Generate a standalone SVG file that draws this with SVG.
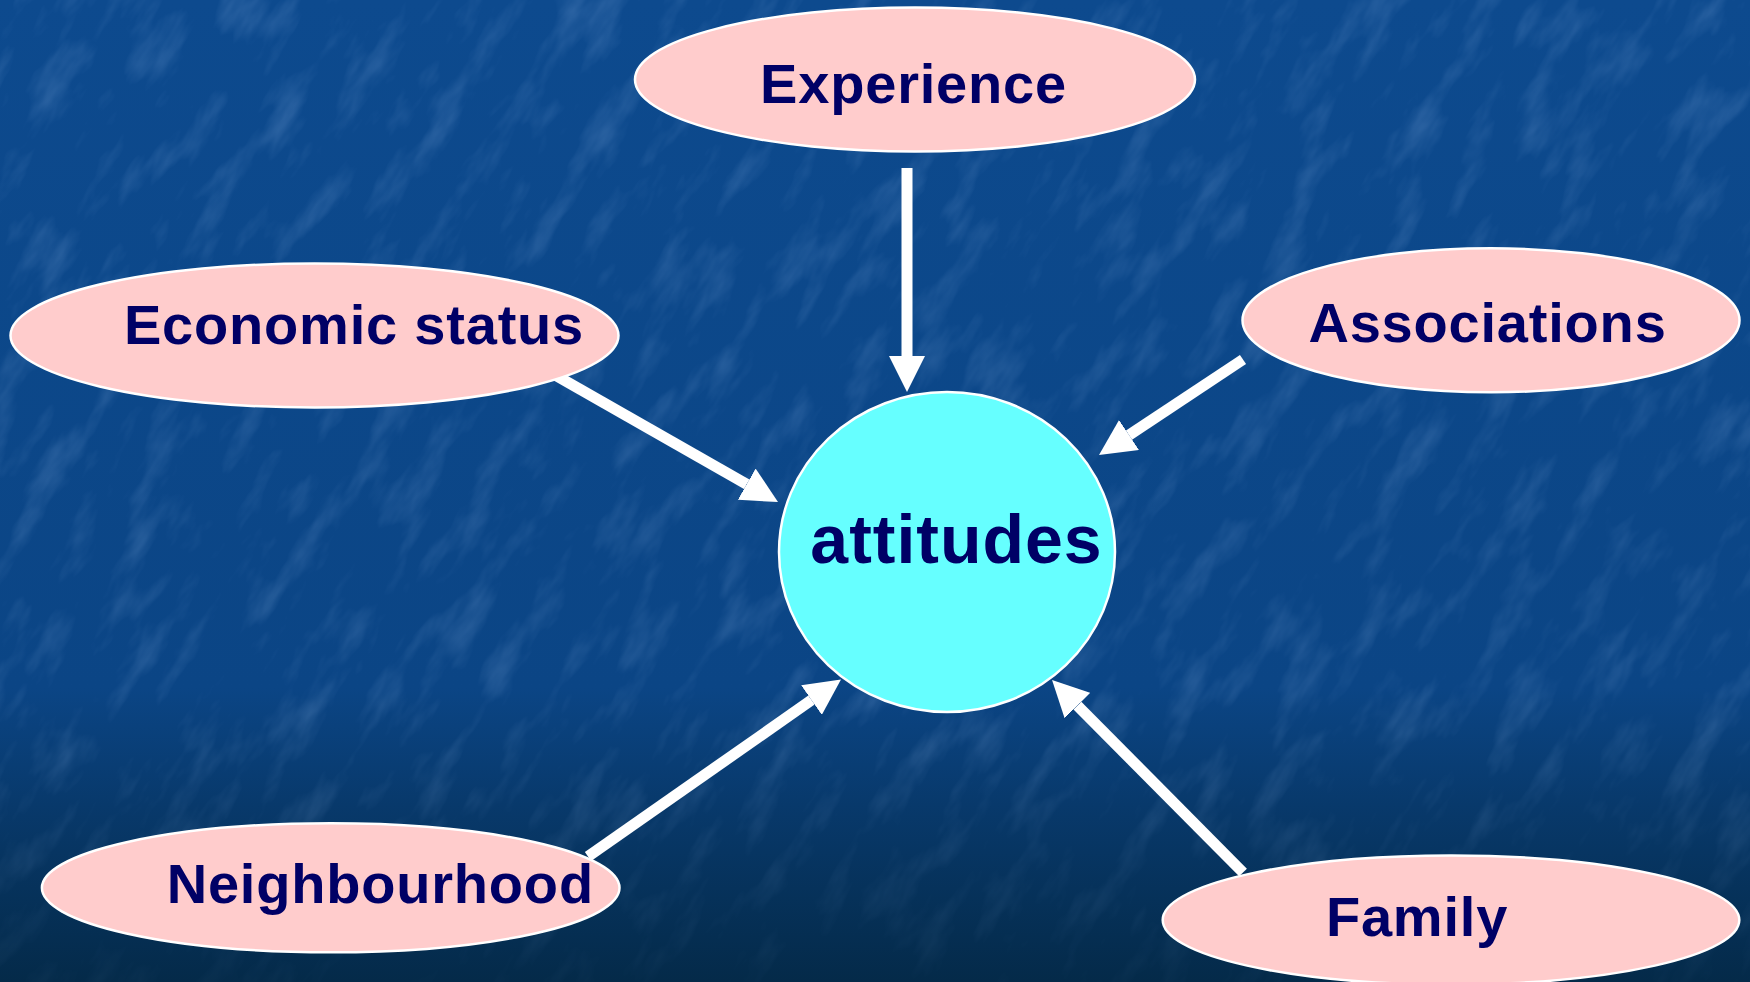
<svg xmlns="http://www.w3.org/2000/svg" width="1750" height="982" viewBox="0 0 1750 982">
<defs>
<linearGradient id="bg" x1="0" y1="0" x2="0" y2="1">
<stop offset="0" stop-color="#0d4a8e"/>
<stop offset="0.7" stop-color="#0b4585"/>
<stop offset="0.82" stop-color="#08396b"/>
<stop offset="1" stop-color="#042a49"/>
</linearGradient>
<filter id="tex" x="0" y="0" width="1" height="1">
<feTurbulence type="fractalNoise" baseFrequency="0.012 0.035" numOctaves="4" seed="7" result="n"/>
<feColorMatrix in="n" type="matrix" values="0 0 0 0 0.45  0 0 0 0 0.65  0 0 0 0 1  0 0 0 1.4 -0.7"/>
</filter>
<linearGradient id="fade" x1="0" y1="0" x2="0" y2="1">
<stop offset="0" stop-color="#fff" stop-opacity="1"/>
<stop offset="0.75" stop-color="#fff" stop-opacity="0.9"/>
<stop offset="1" stop-color="#fff" stop-opacity="0.25"/>
</linearGradient>
<mask id="m"><rect width="1750" height="982" fill="url(#fade)"/></mask>
<marker id="ah" markerUnits="userSpaceOnUse" markerWidth="36" markerHeight="36" viewBox="0 0 36 36" refX="0" refY="18" orient="auto">
<path d="M0,0 L36,18 L0,36 z" fill="#ffffff"/>
</marker>
<style>
.node{fill:#ffcccc;stroke:#ffffff;stroke-width:2.5}
.hub{fill:#66ffff;stroke:#ffffff;stroke-width:2.5}
.lbl{font-family:"Liberation Sans",Arial,sans-serif;font-weight:bold;font-size:56px;fill:#000066;text-anchor:middle;letter-spacing:0.8px}
.conn line{stroke:#ffffff;stroke-width:11;marker-end:url(#ah)}
</style>
</defs>
<rect width="1750" height="982" fill="url(#bg)"/>
<g mask="url(#m)" opacity="0.3">
<g transform="rotate(-58 875 491)">
<rect x="-400" y="-700" width="2550" height="2400" filter="url(#tex)"/>
</g>
</g>
<g id="connectors" class="conn">
<line x1="907" y1="168" x2="907" y2="356"/>
<line x1="555" y1="375" x2="746.7" y2="484.2"/>
<line x1="1243" y1="359.5" x2="1129" y2="435.1"/>
<line x1="588" y1="856.5" x2="811.5" y2="700.1"/>
<line x1="1243" y1="872.5" x2="1077.4" y2="705.6"/>
</g>
<g id="experience">
<ellipse class="node" cx="915" cy="79.5" rx="280" ry="72"/>
<text class="lbl" x="913.5" y="102.7">Experience</text>
</g>
<g id="economic-status">
<ellipse class="node" cx="314.5" cy="335.5" rx="304" ry="72"/>
<text class="lbl" x="354" y="344.3">Economic status</text>
</g>
<g id="associations">
<ellipse class="node" cx="1491" cy="320.3" rx="248.5" ry="72"/>
<text class="lbl" x="1487.5" y="341.7">Associations</text>
</g>
<g id="neighbourhood">
<ellipse class="node" cx="330.7" cy="887.8" rx="288.8" ry="64.5"/>
<text class="lbl" x="380.3" y="903.3">Neighbourhood</text>
</g>
<g id="family">
<ellipse class="node" cx="1451" cy="920" rx="288.3" ry="64.5"/>
<text class="lbl" x="1417" y="935.7">Family</text>
</g>
<g id="attitudes">
<ellipse class="hub" cx="947" cy="552" rx="168" ry="160"/>
<text class="lbl" x="956.5" y="563" style="font-size:68px;letter-spacing:1px">attitudes</text>
</g>
</svg>
